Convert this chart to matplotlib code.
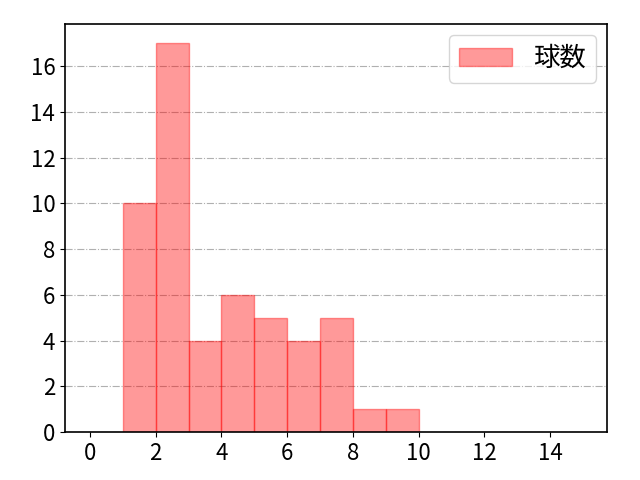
import matplotlib
matplotlib.use('Agg')
import matplotlib.pyplot as plt

plt.rcParams['font.family'] = ['Noto Sans CJK JP', 'DejaVu Sans']

# histogram bins and counts
bin_edges = [1, 2, 3, 4, 5, 6, 7, 8, 9, 10]
counts = [10, 17, 4, 6, 5, 4, 5, 1, 1]

fig = plt.figure(figsize=(6.4, 4.8), dpi=100)
ax = fig.add_axes([65 / 640, 48 / 480, 542 / 640, 408 / 480])

ax.hist(bin_edges[:-1], bins=bin_edges, weights=counts,
        color='red', alpha=0.4, edgecolor='red', label='球数')

ax.set_xlim(-0.76, 15.73)
ax.set_ylim(0, 17.85)
ax.set_xticks(range(0, 16, 2))
ax.set_yticks(range(0, 17, 2))
ax.grid(axis='y', linestyle='-.', color='#b0b0b0')
ax.set_axisbelow(True)
ax.tick_params(labelsize=16)
for s in ax.spines.values():
    s.set_linewidth(1.2)
ax.legend(fontsize=19, loc='upper right', borderaxespad=0.4)

fig.savefig('out.png')
